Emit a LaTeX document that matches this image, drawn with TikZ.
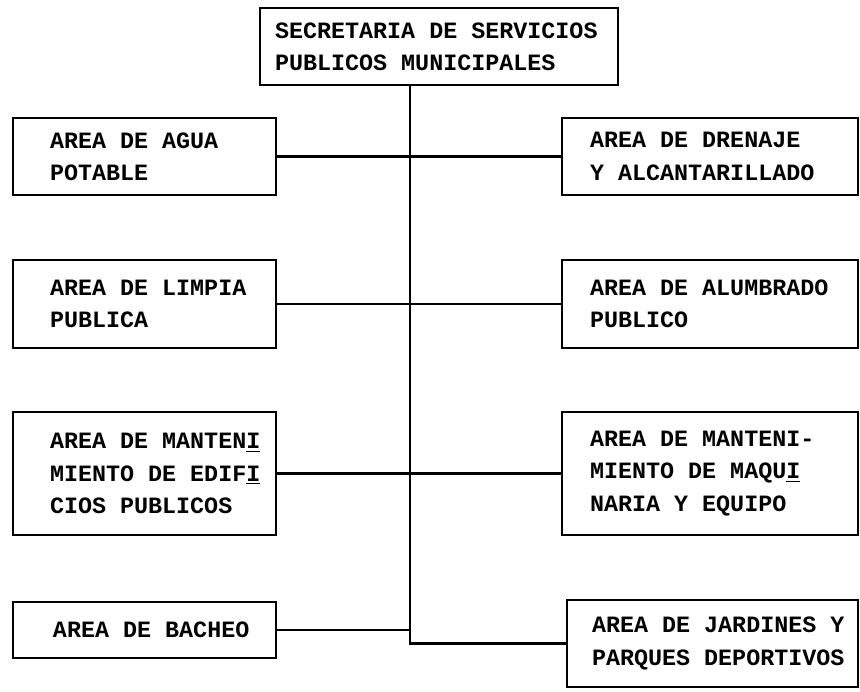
\documentclass[tikz,border=0pt]{standalone}
\usepackage{fontspec}
\setmonofont{Liberation Mono}

\begin{document}
\begin{tikzpicture}[declare function={lx=2.89; rx=14.2; tx=8.2;},
  area/.style={draw, line width=1.4pt, inner xsep=0pt, inner ysep=2pt, align=left,
    font=\fontsize{13.3}{18.4}\selectfont\ttfamily\bfseries},
  indent/.style={execute at begin node={\leftskip=#1cm\spaceskip=0.6em\relax}},
  leftcol/.style={area, text width=5.26cm, indent=0.74},
  rightcol/.style={area, text width=5.92cm, indent=0.56},
  link/.style={line width=1.6pt}]
\useasboundingbox (0,0) rectangle (17.2,-13.82);

% 1. Boxes
\node[area, text width=7.16cm, minimum height=1.54cm, indent=0.3] (sec) at (8.78,-0.93)
  {SECRETARIA DE SERVICIOS\\PUBLICOS MUNICIPALES};

\node[leftcol, minimum height=1.54cm] (agua) at (lx,-3.13) {AREA DE AGUA\\POTABLE};
\node[rightcol, minimum height=1.54cm] (drenaje) at (rx,-3.13) {AREA DE DRENAJE\\Y ALCANTARILLADO};

\node[leftcol, minimum height=1.76cm] (limpia) at (lx,-6.08) {AREA DE LIMPIA\\PUBLICA};
\node[rightcol, minimum height=1.76cm] (alumbrado) at (rx,-6.08) {AREA DE ALUMBRADO\\PUBLICO};

\node[leftcol, minimum height=2.46cm] (edif) at (lx,-9.47)
  {AREA DE MANTEN\underline{I}\\MIENTO DE EDIF\underline{I}\\CIOS PUBLICOS};
\node[rightcol, minimum height=2.46cm] (maquinaria) at (rx,-9.47)
  {AREA DE MANTENI-\\MIENTO DE MAQU\underline{I}\\NARIA Y EQUIPO};

\node[leftcol, minimum height=1.12cm, indent=0.8] (bacheo) at (lx,-12.6) {AREA DE BACHEO};
\node[area, text width=5.82cm, minimum height=1.74cm, indent=0.5] (jardines) at (14.25,-12.87)
  {AREA DE JARDINES Y\\PARQUES DEPORTIVOS};

% 2. Trunk
\coordinate (trunk) at (tx,0);
\draw[link] (sec.south -| trunk) |- (jardines.west);

% 3. Branches
\foreach \a/\b/\w in {agua/drenaje/1.8pt, limpia/alumbrado/1pt, edif/maquinaria/1.2pt}
  \draw[line width=\w] (\a) -- (\b);
\draw[link] (bacheo) -- (bacheo -| trunk);
\end{tikzpicture}
\end{document}
